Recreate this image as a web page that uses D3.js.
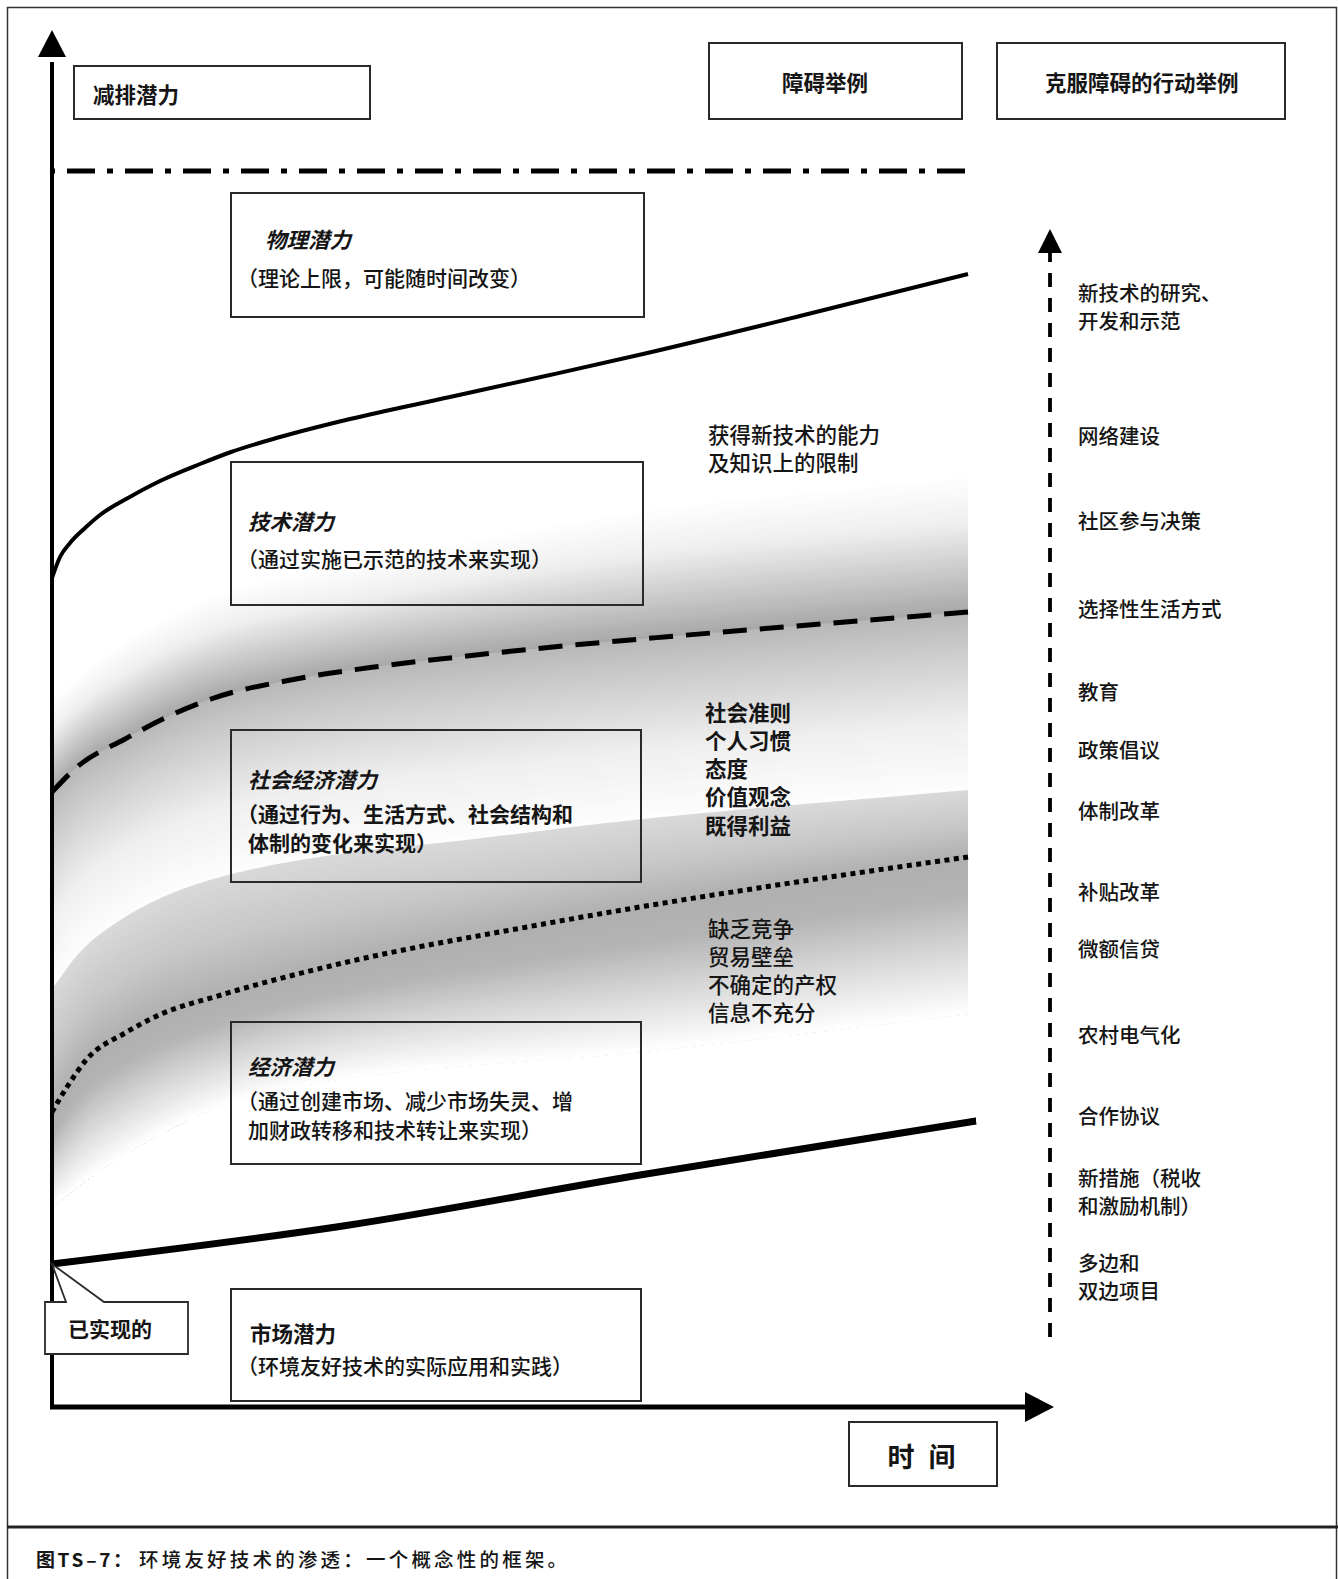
<!DOCTYPE html>
<html><head><meta charset="utf-8">
<script src="https://cdn.jsdelivr.net/npm/d3@7"></script>
<style>
body{margin:0;background:#fff;}
svg text{font-family:"Noto Sans CJK SC","Noto Sans",sans-serif;fill:#151515;}
</style></head><body>
<svg id="c" width="1338" height="1579"></svg>
<script>
// ---------------- DATA (time units on x, potential units on y) ----------------
const physicalLimit = [[0,1236],[913,1236]];
const technicalPotential = [[0,829],[8,850],[18,864],[33,879],[48,892],[76,909],[108,926],[148,943],[179,955],[228,970],[298,988],[398,1010],[498,1032],[591,1053],[748,1091],[916,1133]];
const socioEconomicPotential = [[0,615],[25,640],[73,668],[115,690],[159,708],[244,728],[330,741],[415,751],[501,760],[612,770],[745,781],[916,795]];
const economicPotential = [[0,295],[15,320],[35,348],[73,374],[107,392],[169,412],[291,444],[475,480],[588,500],[745,525],[916,550]];
const marketPotential = [[0,143],[291,181],[588,232],[924,286]];
// shading envelopes
const shadeUpperTop = [[0,708],[46,748],[107,788],[176,818],[291,843],[588,898],[916,933]];
const shadeEdge = [[0,418],[28,455],[70,488],[118,513],[180,533],[294,554],[396,565],[591,588],[916,617]];
const shadeLowerBottom = [[0,200],[46,235],[107,272],[176,303],[291,328],[588,355],[916,393]];

const headers = ["减排潜力","障碍举例","克服障碍的行动举例"];
const potentialTitles = ["物理潜力","技术潜力","社会经济潜力","经济潜力","市场潜力"];
const potentialNotes = [
  ["（理论上限，可能随时间改变）"],
  ["（通过实施已示范的技术来实现）"],
  ["（通过行为、生活方式、社会结构和","体制的变化来实现）"],
  ["（通过创建市场、减少市场失灵、增","加财政转移和技术转让来实现）"],
  ["（环境友好技术的实际应用和实践）"]
];
const barrierGroups = [
  ["获得新技术的能力","及知识上的限制"],
  ["社会准则","个人习惯","态度","价值观念","既得利益"],
  ["缺乏竞争","贸易壁垒","不确定的产权","信息不充分"]
];
const actions = [["新技术的研究、","开发和示范"],["网络建设"],["社区参与决策"],["选择性生活方式"],["教育"],["政策倡议"],["体制改革"],["补贴改革"],["微额信贷"],["农村电气化"],["合作协议"],["新措施（税收","和激励机制）"],["多边和","双边项目"]];
const realizedLabel = "已实现的";
const timeLabel = ["时","间"];
const captionBold = "图TS–7：";
const captionText = "环境友好技术的渗透：一个概念性的框架。";

// ---------------- LAYOUT ----------------
const svg = d3.select("#c");
const x = d3.scaleLinear().domain([0,1000]).range([52,1052]);
const y = d3.scaleLinear().domain([0,1370]).range([1407,37]);

// frame
svg.append("rect").attr("x",7.5).attr("y",7.5).attr("width",1329).attr("height",1590)
  .attr("fill","none").attr("stroke","#333").attr("stroke-width",1.5);
svg.append("line").attr("x1",7).attr("x2",1338).attr("y1",1527).attr("y2",1527)
  .attr("stroke","#222").attr("stroke-width",3);

// monotone cubic interpolation of an envelope
function monotoneInterp(pts){
  const n=pts.length, xs=pts.map(p=>p[0]), ys=pts.map(p=>p[1]);
  const d=[], m=new Array(n);
  for(let i=0;i<n-1;i++) d.push((ys[i+1]-ys[i])/(xs[i+1]-xs[i]));
  m[0]=d[0]; m[n-1]=d[n-2];
  for(let i=1;i<n-1;i++) m[i] = d[i-1]*d[i]<=0 ? 0 : (d[i-1]+d[i])/2;
  for(let i=0;i<n-1;i++){
    if(d[i]===0){m[i]=m[i+1]=0;continue;}
    const a=m[i]/d[i], b=m[i+1]/d[i], s=a*a+b*b;
    if(s>9){const t=3/Math.sqrt(s); m[i]=t*a*d[i]; m[i+1]=t*b*d[i];}
  }
  return function(v){
    if(v<=xs[0]) return ys[0];
    if(v>=xs[n-1]) return ys[n-1];
    const k=d3.bisectRight(xs,v)-1;
    const h=xs[k+1]-xs[k], t=(v-xs[k])/h, t2=t*t, t3=t2*t;
    return (2*t3-3*t2+1)*ys[k]+(t3-2*t2+t)*h*m[k]+(-2*t3+3*t2)*ys[k+1]+(t3-t2)*h*m[k+1];
  };
}

// shading bands
const shadeG = svg.append("g");
function band(topPts, botPts, stops, N){
  const fT = monotoneInterp(topPts), fB = monotoneInterp(botPts);
  const col = d3.scaleLinear().domain(stops.map(s=>s[0])).range(stops.map(s=>s[1])).interpolate(d3.interpolateRgb);
  const xs = d3.range(0, 916.1, 2);
  for(let i=0;i<N;i++){
    const t0 = i/N;
    const area = d3.area()
      .x(d=>x(d))
      .y0(d=>y(fT(d)+t0*(fB(d)-fT(d))))
      .y1(d=>y(fB(d)));
    shadeG.append("path").datum(xs).attr("d",area).attr("fill",col((i+0.5)/N));
  }
}
band(shadeUpperTop, socioEconomicPotential, [[0,"#ffffff"],[0.35,"#efefef"],[0.75,"#c4c4c4"],[1,"#a8a8a8"]], 60);
band(socioEconomicPotential, shadeEdge, [[0,"#b8b8b8"],[0.25,"#cfcfcf"],[0.62,"#efefef"],[1,"#fdfdfd"]], 60);
band(shadeEdge, economicPotential, [[0,"#d9d9d9"],[0.5,"#c8c8c8"],[1,"#afafaf"]], 50);
band(economicPotential, shadeLowerBottom, [[0,"#afafaf"],[0.25,"#b4b4b4"],[0.62,"#dadada"],[1,"#ffffff"]], 60);

// boxes
function box(x0,y0,x1,y1,fill){
  svg.append("rect").attr("x",x0).attr("y",y0).attr("width",x1-x0).attr("height",y1-y0)
    .attr("fill",fill||"none").attr("stroke","#2a2a2a").attr("stroke-width",2);
}
box(74,66,370,119,"#fff");
box(709,43,962,119,"#fff");
box(997,43,1285,119,"#fff");
const boxRects = [[231,193,644,317],[231,462,643,605],[231,730,641,882],[231,1022,641,1164],[231,1289,641,1401]];
boxRects.forEach(r=>box(r[0],r[1],r[2],r[3]));
box(849,1422,997,1486,"#fff");

// curves
const line = d3.line().x(d=>x(d[0])).y(d=>y(d[1])).curve(d3.curveMonotoneX);
svg.append("path").datum(physicalLimit).attr("d",line).attr("fill","none")
  .attr("stroke","#000").attr("stroke-width",5).attr("stroke-dasharray","28,12,6,12").attr("stroke-dashoffset",43);
svg.append("path").datum(technicalPotential).attr("d",line).attr("fill","none")
  .attr("stroke","#000").attr("stroke-width",4);
svg.append("path").datum(socioEconomicPotential).attr("d",line).attr("fill","none")
  .attr("stroke","#000").attr("stroke-width",5).attr("stroke-dasharray","24,13");
svg.append("path").datum(economicPotential).attr("d",line).attr("fill","none")
  .attr("stroke","#000").attr("stroke-width",5).attr("stroke-dasharray","5,4.5");
svg.append("path").datum(marketPotential).attr("d",line).attr("fill","none")
  .attr("stroke","#000").attr("stroke-width",7);

// axes
svg.append("line").attr("x1",x(0)).attr("x2",x(0)).attr("y1",y(0)+2).attr("y2",y(1345))
  .attr("stroke","#000").attr("stroke-width",4);
svg.append("path").attr("d",`M${x(0)},${y(1377)} L${x(0)-14},${y(1350)} L${x(0)+14},${y(1350)} Z`).attr("fill","#000");
svg.append("line").attr("x1",x(0)-2).attr("x2",x(975)).attr("y1",y(0)).attr("y2",y(0))
  .attr("stroke","#000").attr("stroke-width",5);
svg.append("path").attr("d",`M${x(1002)},${y(0)} L${x(973)},${y(0)-15} L${x(973)},${y(0)+15} Z`).attr("fill","#000");

// right dashed arrow (actions)
svg.append("line").attr("x1",1050).attr("x2",1050).attr("y1",1337).attr("y2",252)
  .attr("stroke","#000").attr("stroke-width",3.8).attr("stroke-dasharray","14,11");
svg.append("path").attr("d","M1050,229 L1038,253 L1062,253 Z").attr("fill","#000");

// realized callout
svg.append("path").attr("d",`M45,1302 L66,1302 L${x(0)},${y(143)} L104,1302 L188,1302 L188,1354 L45,1354 Z`)
  .attr("fill","#fff").attr("stroke","#2a2a2a").attr("stroke-width",1.8);
svg.append("text").attr("x",68).attr("y",1328).attr("dominant-baseline","central")
  .attr("font-size",21).attr("font-weight",700).text(realizedLabel);

// header texts
const hdrPos = [[93,93],[782,81],[1045,81]];
headers.forEach((h,i)=>svg.append("text").attr("x",hdrPos[i][0]).attr("y",hdrPos[i][1])
  .attr("dominant-baseline","central").attr("font-size",21.5).attr("font-weight",700).text(h));

// potential titles/notes
const titlePos = [[265,238],[248,520],[248,778],[248,1065],[250,1332]];
const notePos = [[248,277],[248,558],[248,813],[248,1100],[248,1365]];
const noteWeights = [500,500,700,500,500];
potentialTitles.forEach((t,i)=>{
  svg.append("text").attr("x",titlePos[i][0]).attr("y",titlePos[i][1]).attr("dominant-baseline","central")
    .attr("font-size",21.5).attr("font-weight",700).attr("font-style", i<4?"italic":"normal").text(t);
  potentialNotes[i].forEach((n,j)=>{
    const dx = n.startsWith("（") ? -11 : 0;
    svg.append("text").attr("x",notePos[i][0]+dx).attr("y",notePos[i][1]+j*29).attr("dominant-baseline","central")
      .attr("font-size",21).attr("font-weight",noteWeights[i]).text(n);
  });
});

// barrier texts
const barPos = [[708,433],[705,711],[708,927]];
const barWeights = [500,700,500];
barrierGroups.forEach((g,i)=>g.forEach((s,j)=>{
  svg.append("text").attr("x",barPos[i][0]).attr("y",barPos[i][1]+j*28.3).attr("dominant-baseline","central")
    .attr("font-size",21.5).attr("font-weight",barWeights[i]).text(s);
}));

// action texts
const actY = [292,435,520,608,691,749,810,891,948,1034,1115,1177,1262];
actions.forEach((a,i)=>a.forEach((s,j)=>{
  svg.append("text").attr("x",1078).attr("y",actY[i]+j*28).attr("dominant-baseline","central")
    .attr("font-size",20.5).attr("font-weight",500).attr("fill","#1e1e1e").text(s);
}));

// time label
svg.append("text").attr("x",901).attr("y",1455).attr("text-anchor","middle").attr("dominant-baseline","central")
  .attr("font-size",27).attr("font-weight",700).text(timeLabel[0]);
svg.append("text").attr("x",942).attr("y",1455).attr("text-anchor","middle").attr("dominant-baseline","central")
  .attr("font-size",27).attr("font-weight",700).text(timeLabel[1]);

// caption
svg.append("text").attr("x",36).attr("y",1558).attr("dominant-baseline","central")
  .attr("font-size",19).attr("font-weight",700).attr("letter-spacing",2.6).text(captionBold);
svg.append("text").attr("x",139).attr("y",1558).attr("dominant-baseline","central")
  .attr("font-size",19.5).attr("font-weight",500).attr("letter-spacing",3.2).text(captionText);
</script>
</body></html>
